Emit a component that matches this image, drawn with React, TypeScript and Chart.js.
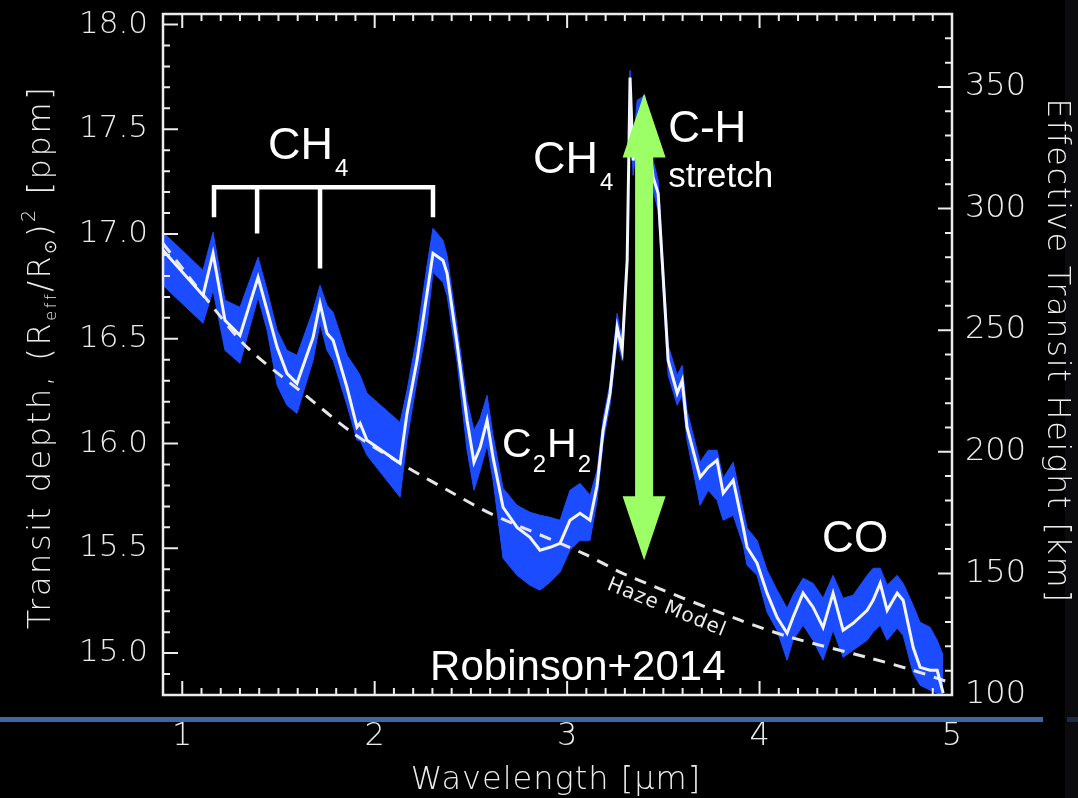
import React, { useEffect, useRef } from 'react';
import { Chart, registerables } from 'chart.js';

Chart.register(...registerables);

// ---------------- data ----------------
const wavelength = [
  0.900, 1.108, 1.160, 1.222, 1.300, 1.394, 1.441, 1.493, 1.544, 1.596,
  1.680, 1.716, 1.752, 1.784, 1.856, 1.908, 1.924, 1.960, 2.132, 2.168,
  2.220, 2.272, 2.303, 2.355, 2.376, 2.428, 2.480, 2.516, 2.548, 2.584,
  2.615, 2.667, 2.740, 2.807, 2.859, 2.911, 2.963, 3.015, 3.067, 3.119,
  3.156, 3.187, 3.223, 3.260, 3.286, 3.312, 3.327, 3.343, 3.364, 3.405,
  3.447, 3.473, 3.494, 3.525, 3.572, 3.598, 3.623, 3.691, 3.733, 3.779,
  3.811, 3.863, 3.915, 3.935, 3.987, 4.039, 4.091, 4.143, 4.174, 4.226,
  4.278, 4.330, 4.382, 4.434, 4.486, 4.559, 4.590, 4.627, 4.663, 4.715,
  4.746, 4.798, 4.834, 4.886, 4.923, 4.954,
];
const transitDepth = [
  16.922, 16.707, 16.908, 16.588, 16.516, 16.793, 16.636, 16.459, 16.335, 16.287,
  16.507, 16.669, 16.526, 16.493, 16.268, 16.078, 16.097, 16.016, 15.906, 16.144,
  16.397, 16.717, 16.908, 16.874, 16.812, 16.478, 16.111, 15.911, 15.982, 16.111,
  15.934, 15.696, 15.600, 15.553, 15.491, 15.505, 15.524, 15.634, 15.667, 15.634,
  15.801, 16.063, 16.240, 16.555, 16.445, 16.874, 17.747, 17.351, 17.518, 17.590,
  17.270, 17.194, 16.874, 16.397, 16.240, 16.302, 16.078, 15.839, 15.887, 15.920,
  15.763, 15.825, 15.600, 15.505, 15.429, 15.286, 15.171, 15.095, 15.171, 15.286,
  15.219, 15.123, 15.286, 15.109, 15.142, 15.204, 15.252, 15.333, 15.204, 15.286,
  15.252, 15.028, 14.932, 14.918, 14.918, 14.809,
];
const bandUpper = [
  17.008, 16.827, 17.008, 16.684, 16.650, 16.889, 16.731, 16.540, 16.445, 16.421,
  16.636, 16.755, 16.660, 16.626, 16.421, 16.350, 16.326, 16.240, 16.101, 16.254,
  16.516, 16.850, 17.027, 16.970, 16.898, 16.564, 16.206, 16.063, 16.120, 16.230,
  16.039, 15.787, 15.705, 15.672, 15.658, 15.648, 15.634, 15.777, 15.810, 15.753,
  15.872, 16.120, 16.287, 16.621, 16.493, 16.922, 17.781, 17.423, 17.638, 17.662,
  17.351, 17.256, 16.932, 16.469, 16.326, 16.373, 16.159, 15.911, 15.968, 15.968,
  15.834, 15.911, 15.682, 15.596, 15.538, 15.395, 15.300, 15.214, 15.276, 15.357,
  15.333, 15.262, 15.371, 15.262, 15.276, 15.371, 15.405, 15.405, 15.324, 15.371,
  15.333, 15.228, 15.147, 15.123, 15.061, 14.990,
];
const bandLower = [
  16.755, 16.574, 16.731, 16.445, 16.383, 16.698, 16.540, 16.278, 16.183, 16.144,
  16.397, 16.574, 16.445, 16.397, 16.183, 16.016, 16.016, 15.944, 15.744, 16.016,
  16.302, 16.564, 16.817, 16.769, 16.707, 16.388, 15.968, 15.777, 15.872, 15.992,
  15.825, 15.453, 15.371, 15.324, 15.300, 15.338, 15.386, 15.491, 15.538, 15.538,
  15.729, 16.006, 16.183, 16.493, 16.397, 16.817, 17.638, 17.280, 17.447, 17.518,
  17.208, 17.113, 16.803, 16.326, 16.183, 16.230, 16.016, 15.705, 15.777, 15.729,
  15.634, 15.658, 15.515, 15.419, 15.371, 15.195, 15.109, 14.966, 15.061, 15.133,
  15.061, 14.966, 15.109, 14.980, 15.014, 15.061, 15.100, 15.133, 15.061, 15.119,
  15.085, 14.904, 14.847, 14.823, 14.809, 14.785,
];
const hazeWavelength = [0.900, 1.144, 1.337, 1.628, 1.888, 2.168, 2.407, 2.600, 3.083, 3.312, 3.899, 4.159, 4.559, 4.798, 5.000];
const hazeDepth = [16.955, 16.669, 16.459, 16.240, 16.049, 15.887, 15.763, 15.667, 15.476, 15.371, 15.157, 15.076, 14.980, 14.918, 14.856];

const xTicks = [1, 2, 3, 4, 5];
const leftTicks = [15.0, 15.5, 16.0, 16.5, 17.0, 17.5, 18.0];
const rightTicks = [100, 150, 200, 250, 300, 350];

// CH4 bracket positions (μm) and the bracket bar level
const ch4BracketX = [1.165, 1.389, 1.716, 2.303];
const ch4BracketEnd = [17.080, 17.003, 16.836, 17.080];
const ch4BracketBar = 17.223;

// ---------------- style constants ----------------
const X_MIN = 0.9, X_MAX = 5.0;
const Y_MIN = 14.8, Y_MAX = 18.05;
const Y2_MIN = 100, Y2_MAX = 380;
const AXIS_FONT = '"DejaVu Sans"';
const ANN_FONT = '"Liberation Sans", Arial, sans-serif';
const AXIS_COLOR = '#ececec';

type Part = { t: string; size: number; dy?: number; gap?: number };

function drawParts(ctx: CanvasRenderingContext2D, x: number, y: number, parts: Part[], family: string, weight = '400', align: 'left' | 'center' = 'left', spacing = 0) {
  ctx.save();
  (ctx as any).letterSpacing = spacing + 'px';
  let total = 0;
  const widths: number[] = [];
  for (const p of parts) {
    ctx.font = `${weight} ${p.size}px ${family}`;
    const w = ctx.measureText(p.t).width + (p.gap || 0);
    widths.push(w);
    total += w;
  }
  let cx = align === 'center' ? x - total / 2 : x;
  ctx.textAlign = 'left';
  ctx.textBaseline = 'alphabetic';
  parts.forEach((p, i) => {
    ctx.font = `${weight} ${p.size}px ${family}`;
    ctx.fillText(p.t, cx + (p.gap || 0), y + (p.dy || 0));
    cx += widths[i];
  });
  ctx.restore();
}

const noPad = (s: any) => { s.paddingTop = 0; s.paddingBottom = 0; s.paddingLeft = 0; s.paddingRight = 0; };

const decorPlugin = {
  id: 'decor',
  beforeDraw(chart: any) {
    const ctx: CanvasRenderingContext2D = chart.ctx;
    ctx.save();
    ctx.fillStyle = '#000';
    ctx.fillRect(0, 0, chart.width, chart.height);
    ctx.fillStyle = '#0b0b0e';
    ctx.fillRect(1065, 0, chart.width - 1065, chart.height);
    ctx.fillStyle = '#3b68a6';
    ctx.fillRect(0, 717, 1043, 5);
    ctx.fillStyle = '#1c2a42';
    ctx.fillRect(1067, 717, chart.width - 1067, 5);
    ctx.restore();
  },
  afterDatasetsDraw(chart: any) {
    const ctx: CanvasRenderingContext2D = chart.ctx;
    const xs = chart.scales.x, ys = chart.scales.y, y2 = chart.scales.y2;
    const { left, right, top, bottom } = chart.chartArea;
    ctx.save();

    // CH4 bracket
    ctx.strokeStyle = '#ffffff';
    ctx.lineWidth = 4.5;
    ctx.lineCap = 'butt';
    const barY = ys.getPixelForValue(ch4BracketBar);
    ctx.beginPath();
    ctx.moveTo(xs.getPixelForValue(ch4BracketX[0]) - 2.2, barY);
    ctx.lineTo(xs.getPixelForValue(ch4BracketX[ch4BracketX.length - 1]) + 2.2, barY);
    ch4BracketX.forEach((bx, i) => {
      const px = xs.getPixelForValue(bx);
      ctx.moveTo(px, barY - 2.2);
      ctx.lineTo(px, ys.getPixelForValue(ch4BracketEnd[i]));
    });
    ctx.stroke();

    // green double arrow
    const ax = xs.getPixelForValue(3.40);
    const at = ys.getPixelForValue(17.671);
    const ab = ys.getPixelForValue(15.443);
    const headW = 43, headL = 64, shaftW = 18;
    ctx.fillStyle = '#9cff66';
    ctx.beginPath();
    ctx.moveTo(ax, at);
    ctx.lineTo(ax + headW / 2, at + headL);
    ctx.lineTo(ax + shaftW / 2, at + headL);
    ctx.lineTo(ax + shaftW / 2, ab - headL);
    ctx.lineTo(ax + headW / 2, ab - headL);
    ctx.lineTo(ax, ab);
    ctx.lineTo(ax - headW / 2, ab - headL);
    ctx.lineTo(ax - shaftW / 2, ab - headL);
    ctx.lineTo(ax - shaftW / 2, at + headL);
    ctx.lineTo(ax - headW / 2, at + headL);
    ctx.closePath();
    ctx.fill();

    // annotations
    ctx.fillStyle = '#ffffff';
    const P = (x: number, y: number) => [xs.getPixelForValue(x), ys.getPixelForValue(y)];
    let [px, py] = P(1.446, 17.356);
    drawParts(ctx, px, py, [{ t: 'CH', size: 45 }, { t: '4', size: 24, dy: 17, gap: 2 }], ANN_FONT);
    [px, py] = P(2.823, 17.289);
    drawParts(ctx, px, py, [{ t: 'CH', size: 45 }, { t: '4', size: 24, dy: 17, gap: 2 }], ANN_FONT);
    [px, py] = P(3.525, 17.440);
    drawParts(ctx, px, py, [{ t: 'C-H', size: 44 }], ANN_FONT);
    [px, py] = P(3.525, 17.222);
    drawParts(ctx, px, py, [{ t: 'stretch', size: 35 }], ANN_FONT);
    [px, py] = P(2.662, 15.934);
    drawParts(ctx, px, py, [
      { t: 'C', size: 41 }, { t: '2', size: 24, dy: 15, gap: 1 }, { t: 'H', size: 41, gap: 1 }, { t: '2', size: 24, dy: 15, gap: 1 },
    ], ANN_FONT);
    [px, py] = P(4.325, 15.481);
    drawParts(ctx, px, py, [{ t: 'CO', size: 44 }], ANN_FONT);
    [px, py] = P(2.288, 14.870);
    drawParts(ctx, px, py, [{ t: 'Robinson+2014', size: 42 }], ANN_FONT);

    // Haze Model label
    [px, py] = P(3.520, 15.224);
    ctx.save();
    ctx.translate(px, py);
    ctx.rotate((22 * Math.PI) / 180);
    ctx.fillStyle = '#ececec';
    drawParts(ctx, 0, 7, [{ t: 'Haze Model', size: 20 }], AXIS_FONT, '400', 'center', 1);
    ctx.restore();

    // frame
    ctx.strokeStyle = AXIS_COLOR;
    ctx.lineWidth = 2.5;
    ctx.strokeRect(left, top, right - left, bottom - top);

    // ticks
    ctx.lineWidth = 2;
    ctx.beginPath();
    for (let i = 0; i <= Math.round((X_MAX - X_MIN) / 0.1); i++) {
      const v = X_MIN + i * 0.1;
      const major = Math.abs(v - Math.round(v)) < 1e-6;
      const len = major ? 14 : 7;
      const p = xs.getPixelForValue(v);
      ctx.moveTo(p, bottom); ctx.lineTo(p, bottom - len);
      ctx.moveTo(p, top); ctx.lineTo(p, top + len);
    }
    for (let i = 0; i <= 32; i++) {
      const v = Y_MIN + i * 0.1;
      if (v > Y_MAX) break;
      const major = Math.abs(v * 2 - Math.round(v * 2)) < 1e-6;
      const len = major ? 15 : 7;
      const p = ys.getPixelForValue(v);
      ctx.moveTo(left, p); ctx.lineTo(left + len, p);
    }
    for (let v = Y2_MIN; v <= Y2_MAX - 5; v += 10) {
      const major = v % 50 === 0;
      const len = major ? 14 : 7;
      const p = y2.getPixelForValue(v);
      ctx.moveTo(right, p); ctx.lineTo(right - len, p);
    }
    ctx.stroke();
    ctx.restore();
  },
  afterDraw(chart: any) {
    const ctx: CanvasRenderingContext2D = chart.ctx;
    ctx.save();
    ctx.fillStyle = AXIS_COLOR;
    // x title
    drawParts(ctx, 556, 789, [{ t: 'Wavelength [', size: 32 }, { t: 'μ', size: 32 }, { t: 'm]', size: 32 }], AXIS_FONT, '200', 'center', 1);
    // left title
    ctx.save();
    ctx.translate(50, 357);
    ctx.rotate(-Math.PI / 2);
    drawParts(ctx, 0, 0, [
      { t: 'Transit depth, (R', size: 32 },
      { t: 'eff', size: 16, dy: 6 },
      { t: '/R', size: 32 },
      { t: '⊙', size: 17, dy: 6 },
      { t: ')', size: 32 },
      { t: '2', size: 19, dy: -15 },
      { t: ' [ppm]', size: 32 },
    ], AXIS_FONT, '200', 'center', 2.6);
    ctx.restore();
    // right title
    ctx.save();
    ctx.translate(1048, 351);
    ctx.rotate(Math.PI / 2);
    drawParts(ctx, 0, 0, [{ t: 'Effective Transit Height [km]', size: 32 }], AXIS_FONT, '200', 'center', 1.7);
    ctx.restore();
    ctx.restore();
  },
};

export default function App() {
  const ref = useRef<HTMLCanvasElement | null>(null);
  useEffect(() => {
    if (!ref.current) return;
    const line = wavelength.map((w, i) => ({ x: w, y: transitDepth[i] }));
    const up = wavelength.map((w, i) => ({ x: w, y: bandUpper[i] }));
    const lo = wavelength.map((w, i) => ({ x: w, y: bandLower[i] }));
    const haze = hazeWavelength.map((w, i) => ({ x: w, y: hazeDepth[i] }));
    const tickFont = { family: AXIS_FONT, size: 31, weight: '200' as any };
    const chart = new Chart(ref.current, {
      type: 'line',
      data: {
        datasets: [
          { label: 'Spectrum', data: line, borderColor: '#f3f6ff', borderWidth: 3, pointRadius: 0, fill: false, tension: 0 },
          { label: 'Haze Model', data: haze, borderColor: '#e6e6e6', borderWidth: 3, borderDash: [12, 9], pointRadius: 0, fill: false, tension: 0.3 },
          { label: 'Upper', data: up, borderColor: '#1c4cff', borderWidth: 1, pointRadius: 0, fill: '+1', backgroundColor: '#1c4cff', tension: 0 },
          { label: 'Lower', data: lo, borderColor: '#1c4cff', borderWidth: 1, pointRadius: 0, fill: false, tension: 0 },
        ],
      },
      options: {
        animation: false,
        responsive: false,
        maintainAspectRatio: false,
        layout: { padding: { left: 0, right: 0, top: 14, bottom: 0 } },
        plugins: { legend: { display: false }, tooltip: { enabled: false } },
        scales: {
          x: {
            type: 'linear', min: X_MIN, max: X_MAX,
            grid: { display: false, drawTicks: false }, border: { display: false },
            afterBuildTicks: (s: any) => { s.ticks = xTicks.map((v) => ({ value: v })); },
            afterFit: (s: any) => { s.height = 103; noPad(s); },
            ticks: { color: AXIS_COLOR, font: { ...tickFont, size: 32 }, padding: 22, maxRotation: 0, autoSkip: false, callback: (v: any) => String(v) },
          },
          y: {
            type: 'linear', position: 'left', min: Y_MIN, max: Y_MAX,
            grid: { display: false, drawTicks: false }, border: { display: false },
            afterBuildTicks: (s: any) => { s.ticks = leftTicks.map((v) => ({ value: v })); },
            afterFit: (s: any) => { s.width = 163; noPad(s); },
            ticks: { color: AXIS_COLOR, font: tickFont, padding: 15, autoSkip: false, callback: (v: any) => Number(v).toFixed(1) },
          },
          y2: {
            type: 'linear', position: 'right', min: Y2_MIN, max: Y2_MAX,
            grid: { display: false, drawTicks: false }, border: { display: false },
            afterBuildTicks: (s: any) => { s.ticks = rightTicks.map((v) => ({ value: v })); },
            afterFit: (s: any) => { s.width = 126; noPad(s); },
            ticks: { color: AXIS_COLOR, font: { ...tickFont, size: 32 }, padding: 13, autoSkip: false, callback: (v: any) => String(v) },
          },
        },
      },
      plugins: [decorPlugin],
    });
    return () => chart.destroy();
  }, []);
  return (
    <div style={{ position: 'fixed', left: 0, top: 0, width: 1078, height: 798, background: '#000' }}>
      <canvas ref={ref} width={1078} height={798} style={{ display: 'block', width: 1078, height: 798 }} />
    </div>
  );
}
